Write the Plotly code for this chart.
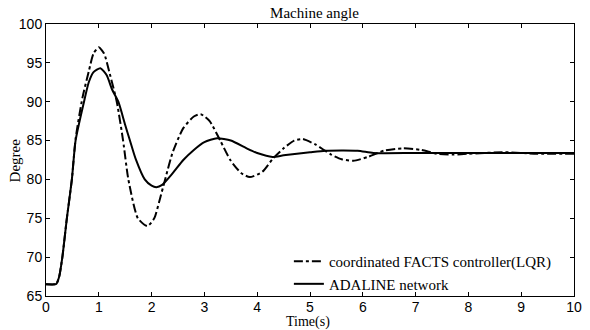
import plotly.graph_objects as go

# LQR coordinated FACTS controller (dash-dot)
t_lqr = [0, 0.17, 0.2, 0.25, 0.31, 0.395, 0.49, 0.56, 0.69, 0.81, 0.9, 1.0, 1.1, 1.2, 1.34, 1.46, 1.56,
         1.74, 1.92, 2.05, 2.15, 2.26, 2.4, 2.6, 2.8, 2.93, 3.1, 3.3, 3.5, 3.7, 3.86, 4.1, 4.3,
         4.5, 4.7, 4.86, 5.1, 5.4, 5.6, 5.82, 6.1, 6.4, 6.75, 7.1, 7.4, 7.71, 8.0, 8.7, 9.3, 10]
v_lqr = [66.5, 66.5, 66.6, 67.5, 70, 75, 80, 85.2, 90.5, 93.9, 96.2, 97.0, 96.2, 93.8, 90, 85, 80,
         75, 74.0, 75, 77.3, 80.1, 83.5, 86.6, 88.1, 88.4, 87.5, 85, 82.4, 80.8, 80.3, 81, 82.7,
         84, 85, 85.2, 84.5, 83.2, 82.6, 82.4, 82.9, 83.7, 84.0, 83.8, 83.3, 83.2, 83.3, 83.5, 83.3, 83.3]

# ADALINE network (solid)
t_ada = [0, 0.17, 0.2, 0.25, 0.31, 0.395, 0.49, 0.56, 0.72, 0.81, 0.9, 1.03, 1.15, 1.25, 1.37, 1.5,
         1.59, 1.7, 1.87, 2.0, 2.09, 2.2, 2.4, 2.6, 2.8, 3.0, 3.24, 3.5, 3.8, 4.0, 4.29, 4.5,
         5.0, 5.29, 5.9, 6.2, 7.0, 8.0, 9.0, 10]
v_ada = [66.5, 66.5, 66.6, 67.5, 70, 75, 80, 85, 90, 92.5, 93.8, 94.3, 93.4, 91.6, 90, 87,
         85, 82.6, 80, 79.2, 79.0, 79.3, 80.8, 82.5, 83.8, 84.8, 85.3, 85.0, 84.0, 83.4, 82.9, 83.1,
         83.5, 83.7, 83.7, 83.4, 83.4, 83.4, 83.4, 83.4]

x_ticks = list(range(0, 11))
y_ticks = [65, 70, 75, 80, 85, 90, 95, 100]

serif = "Liberation Serif"
sans = "Liberation Sans"

fig = go.Figure()
fig.add_trace(go.Scatter(x=t_lqr, y=v_lqr, mode="lines",
                         name="coordinated FACTS controller(LQR)",
                         line=dict(color="black", width=2, dash="dashdot", shape="spline", smoothing=0.6)))
fig.add_trace(go.Scatter(x=t_ada, y=v_ada, mode="lines", name="ADALINE network",
                         line=dict(color="black", width=2, shape="spline", smoothing=0.6)))

axis_common = dict(showgrid=False, zeroline=False, showline=True, linecolor="black", linewidth=1,
                   mirror="ticks", ticks="inside", ticklen=4, tickcolor="black",
                   tickfont=dict(family=sans, size=14, color="black"))
fig.update_xaxes(range=[0, 10], tickvals=x_ticks, ticklabelstandoff=-2, **axis_common)
fig.update_yaxes(range=[65, 100], tickvals=y_ticks, **axis_common)

fig.update_layout(
    width=590, height=330,
    margin=dict(l=46, r=8, t=24, b=34),
    paper_bgcolor="white", plot_bgcolor="white",
    title=dict(text="Machine angle", x=0.533, xanchor="center", y=0.96, yanchor="middle",
               font=dict(family=serif, size=15, color="black")),
    legend=dict(x=0.46, y=-0.015, xanchor="left", yanchor="bottom", bgcolor="rgba(0,0,0,0)",
                font=dict(family=serif, size=15, color="black"), tracegroupgap=0),
    showlegend=True,
    annotations=[
        dict(text="Time(s)", xref="paper", yref="paper", x=0.497, y=-0.0956,
             xanchor="center", yanchor="middle", showarrow=False,
             font=dict(family=serif, size=14, color="black")),
        dict(text="Degree", xref="paper", yref="paper", x=-0.058, y=0.50,
             xanchor="center", yanchor="middle", showarrow=False, textangle=-90,
             font=dict(family=serif, size=15, color="black")),
    ],
)

fig.write_html("out.html")
